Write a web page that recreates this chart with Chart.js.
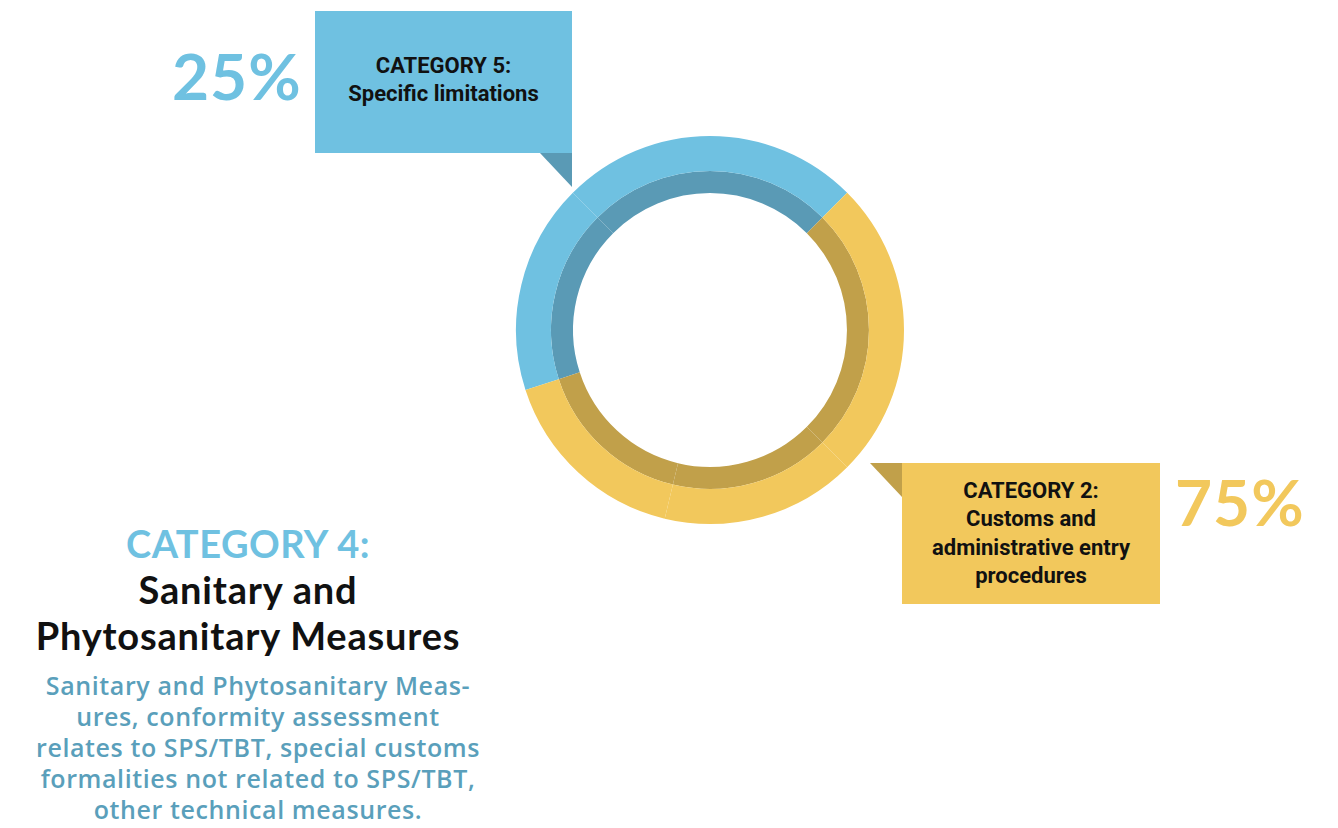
<!DOCTYPE html>
<html>
<head>
<meta charset="utf-8">
<script src="https://cdn.jsdelivr.net/npm/chart.js@4"></script>
<style>
  body { margin:0; width:1338px; height:828px; background:#fff; position:relative; overflow:hidden; font-family: Lato, "Noto Sans", sans-serif; }
  #wrap { position:absolute; left:510px; top:130px; width:400px; height:400px; }
  .box { position:absolute; display:flex; flex-direction:column; justify-content:center; align-items:center; text-align:center;
         font-family:Roboto, "Open Sans", sans-serif; font-weight:700; color:#111; font-size:22px; line-height:28.5px; }
  .fold { position:absolute; width:0; height:0; }
  .pct { position:absolute; font-family:Lato, sans-serif; font-weight:700; font-size:64px; line-height:64px; letter-spacing:1px; }
  #cat4 { position:absolute; left:0; width:496px; text-align:center; }
</style>
</head>
<body>
<div id="wrap"><canvas id="ring"></canvas></div>

<div class="pct" id="p5" style="left:172px; top:44px; color:#6fc1e1;"></div>
<div class="box" id="b5" style="left:315px; top:11px; width:257px; height:142px; background:#6fc1e1; padding-bottom:4px; box-sizing:border-box;"></div>
<div class="fold" style="left:540px; top:153px; border-top:34px solid #5a9ab5; border-left:32px solid transparent;"></div>

<div class="pct" id="p2" style="left:1175px; top:470px; color:#f2c85c;"></div>
<div class="box" id="b2" style="left:902px; top:463px; width:258px; height:141px; background:#f2c85c;"></div>
<div class="fold" style="left:870px; top:463px; border-top:34px solid #c1a04a; border-left:32px solid transparent;"></div>

<div id="cat4" style="top:520px;">
  <div style="color:#6fc1e1; font-weight:700; font-size:38px; line-height:46px; letter-spacing:0.5px;">CATEGORY 4:</div>
  <div style="color:#111; font-weight:700; font-size:38px; line-height:46px; letter-spacing:0.8px;">Sanitary and<br>Phytosanitary Measures</div>
  <div style="color:#5a9fbb; font-family:'Open Sans', sans-serif; font-weight:600; font-size:25px; line-height:31px; margin-top:12px; padding-left:20px; letter-spacing:0.6px;">Sanitary and Phytosanitary Meas-<br>ures, conformity assessment<br>relates to SPS/TBT, special customs<br>formalities not related to SPS/TBT,<br>other technical measures.</div>
</div>

<script>
// categories and their headline shares
const categories = ["CATEGORY 5:\nSpecific limitations", "CATEGORY 2:\nCustoms and\nadministrative entry\nprocedures"];
const shares = [25, 75];
const outerColors = ["#6fc1e1", "#f2c85c"];
const innerColors = ["#5a9ab5", "#c1a04a"];

// ring segments as drawn (percent of the circle), clockwise from lower left
const segmentValues = [17.5, 12.5, 12.5, 25, 16.25, 16.25];
const segmentCategory = [0, 0, 0, 1, 1, 1];

document.getElementById("p5").textContent = shares[0] + "%";
document.getElementById("p2").textContent = shares[1] + "%";
document.getElementById("b5").innerHTML = categories[0].split("\n").join("<br>");
document.getElementById("b2").innerHTML = categories[1].split("\n").join("<br>");

new Chart(document.getElementById("ring"), {
  type: 'doughnut',
  data: {
    labels: segmentCategory.map(c => categories[c]),
    datasets: [{
      data: segmentValues,
      backgroundColor: segmentCategory.map(c => outerColors[c]),
      borderWidth: 0,
      weight: 35
    }, {
      data: segmentValues,
      backgroundColor: segmentCategory.map(c => innerColors[c]),
      borderWidth: 0,
      weight: 22
    }]
  },
  options: {
    responsive: true,
    maintainAspectRatio: false,
    animation: false,
    rotation: 252,
    radius: 194,
    cutout: '70.6%',
    plugins: { legend: { display: false }, tooltip: { enabled: false } },
    events: []
  }
});
</script>
</body>
</html>
